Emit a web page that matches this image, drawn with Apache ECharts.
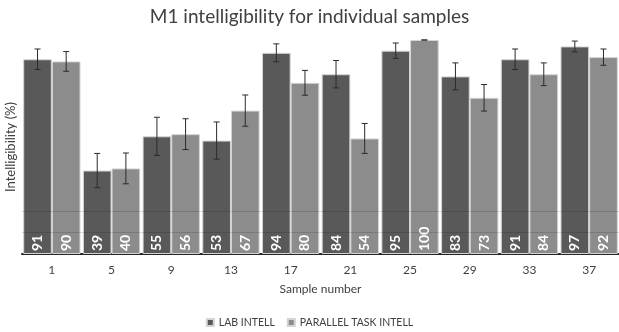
<!DOCTYPE html>
<html>
<head>
<meta charset="utf-8">
<script src="https://cdn.jsdelivr.net/npm/echarts@6/dist/echarts.min.js"></script>
<style>
  html, body { margin: 0; padding: 0; background: #fff; }
  #chart { width: 619px; height: 332px; }
</style>
</head>
<body>
<div id="chart"></div>
<script>
// Sample numbers along the x axis
const samples = ['1', '5', '9', '13', '17', '21', '25', '29', '33', '37'];
// Intelligibility scores (%)
const labIntell = [91, 39, 55, 53, 94, 84, 95, 83, 91, 97];
const parallelIntell = [90, 40, 56, 67, 80, 54, 100, 73, 84, 92];
// Half-widths of the error bars (%)
const labErr = [4.8, 8, 8.9, 8.7, 4.2, 6.4, 3.6, 6.3, 4.8, 2.5];
const parallelErr = [4.6, 7.2, 7.2, 7.3, 5.8, 7, 0, 6.2, 5.3, 3.8];
// Reference lines drawn across the lower part of the bars
const guideLines = [10, 20];

const FONT = 'Lato, "Open Sans", sans-serif';
const CAT_GAP = 0.04;

// Rows for the error-bar series: [category index, value, half-width, series slot]
const errRows = [];
samples.forEach((_, i) => {
  errRows.push([i, labIntell[i], labErr[i], 0]);
  errRows.push([i, parallelIntell[i], parallelErr[i], 1]);
});

function renderErr(params, api) {
  const idx = api.value(0);
  const val = api.value(1);
  const err = api.value(2);
  const slot = api.value(3);
  const band = api.size([1, 0])[0];
  const barW = band * (1 - CAT_GAP) / 2;
  const center = api.coord([idx, val]);
  const x = center[0] + (slot === 0 ? -barW / 2 : barW / 2);
  const yHi = api.coord([idx, val + err])[1];
  const yLo = api.coord([idx, val - err])[1];
  const cap = 3;
  const style = { stroke: '#2b2b2b', lineWidth: 1 };
  return {
    type: 'group',
    children: [
      { type: 'line', shape: { x1: x, y1: yHi, x2: x, y2: yLo }, style },
      { type: 'line', shape: { x1: x - cap, y1: yHi, x2: x + cap, y2: yHi }, style },
      { type: 'line', shape: { x1: x - cap, y1: yLo, x2: x + cap, y2: yLo }, style }
    ]
  };
}

const valueLabel = {
  show: true,
  position: 'insideBottom',
  rotate: 90,
  align: 'left',
  verticalAlign: 'middle',
  distance: 3,
  color: '#ffffff',
  fontFamily: FONT,
  fontWeight: 'bold',
  fontSize: 14
};

const chart = echarts.init(document.getElementById('chart'), null, { renderer: 'canvas' });
chart.setOption({
  animation: false,
  backgroundColor: '#ffffff',
  title: {
    text: 'M1 intelligibility for individual samples',
    left: 'center',
    top: 2,
    textStyle: { fontFamily: FONT, fontWeight: 'normal', fontSize: 19, color: '#404040' }
  },
  legend: {
    bottom: -1,
    left: 'center',
    icon: 'rect',
    itemWidth: 7,
    itemHeight: 7,
    itemGap: 12,
    textStyle: { fontFamily: FONT, fontSize: 10.5, color: '#404040' },
    data: ['LAB INTELL', 'PARALLEL TASK INTELL']
  },
  grid: { left: 22, right: 0, top: 40, bottom: 78, containLabel: false, outerBoundsMode: 'none' },
  xAxis: {
    type: 'category',
    data: samples,
    name: 'Sample number',
    nameLocation: 'middle',
    nameGap: 29,
    nameTextStyle: { fontFamily: FONT, fontSize: 12, color: '#404040' },
    axisLine: { lineStyle: { color: '#262626', width: 2 } },
    axisTick: { show: false },
    axisLabel: { fontFamily: FONT, fontSize: 12, color: '#404040', margin: 10 }
  },
  yAxis: {
    type: 'value',
    min: 0,
    max: 100,
    interval: 10,
    name: 'Intelligibility (%)',
    nameLocation: 'middle',
    nameGap: 5,
    nameTextStyle: { fontFamily: FONT, fontSize: 13, color: '#404040' },
    axisLine: { show: false },
    axisTick: { show: false },
    axisLabel: { show: false },
    splitLine: { show: false }
  },
  series: [
    {
      name: 'LAB INTELL',
      type: 'bar',
      data: labIntell,
      barGap: '0%',
      barCategoryGap: (CAT_GAP * 100) + '%',
      itemStyle: { color: '#595959', borderColor: '#d4d4d4', borderWidth: 1 },
      label: valueLabel
    },
    {
      name: 'PARALLEL TASK INTELL',
      type: 'bar',
      data: parallelIntell,
      barGap: '0%',
      barCategoryGap: (CAT_GAP * 100) + '%',
      itemStyle: { color: '#8c8c8c', borderColor: '#d4d4d4', borderWidth: 1 },
      label: valueLabel,
      markLine: {
        silent: true,
        symbol: 'none',
        label: { show: false },
        lineStyle: { color: 'rgba(0,0,0,0.13)', type: 'solid', width: 1 },
        data: guideLines.map(v => ({ yAxis: v }))
      }
    },
    {
      name: 'error',
      type: 'custom',
      data: errRows,
      renderItem: renderErr,
      encode: { x: 0, y: 1 },
      z: 5,
      silent: true
    }
  ]
});
</script>
</body>
</html>
